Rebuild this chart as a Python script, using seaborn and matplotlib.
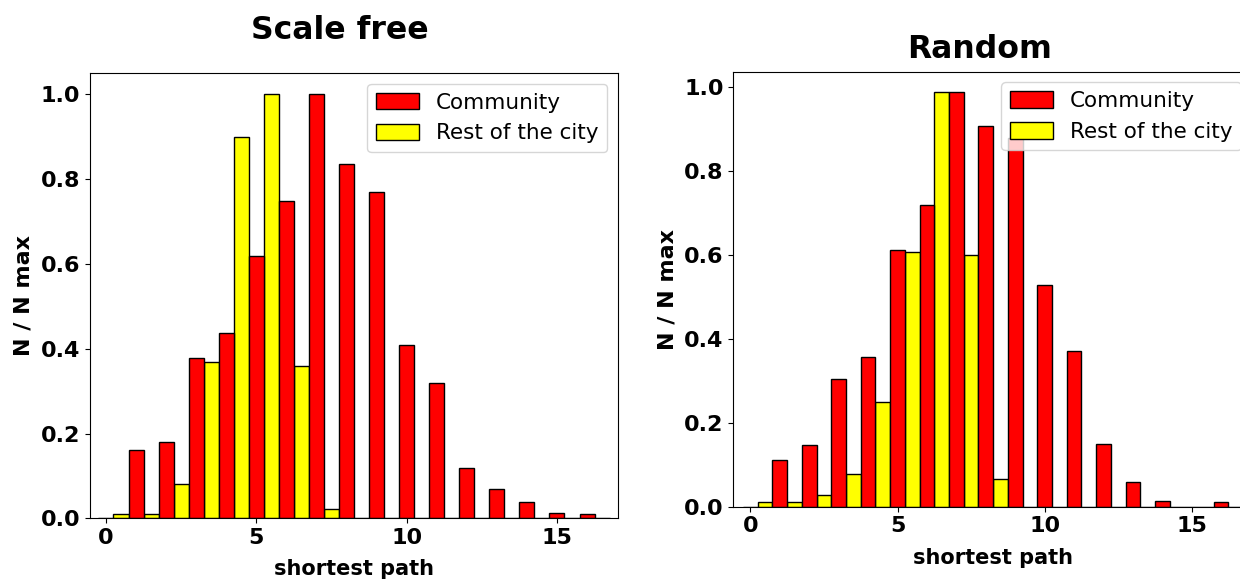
import numpy as np
import pandas as pd
import matplotlib
matplotlib.use("Agg")
import matplotlib.pyplot as plt
from matplotlib.patches import Patch
import seaborn as sns

# shortest path values (bin centres), one per bin
path = list(range(0, 17))

# Scale free network, normalised counts
sf_community = [0.0, 0.161, 0.179, 0.379, 0.438, 0.619, 0.748, 1.0, 0.837,
                0.769, 0.409, 0.319, 0.119, 0.069, 0.039, 0.013, 0.010]
sf_rest = [0.010, 0.010, 0.081, 0.368, 0.899, 1.0, 0.360, 0.023, 0.0,
           0.0, 0.0, 0.0, 0.0, 0.0, 0.0, 0.0, 0.0]

# Random network, normalised counts
rn_community = [0.0, 0.111, 0.147, 0.305, 0.357, 0.613, 0.719, 0.988, 0.907,
                0.88, 0.529, 0.370, 0.149, 0.060, 0.014, 0.0, 0.011]
rn_rest = [0.010, 0.010, 0.029, 0.078, 0.249, 0.608, 0.988, 0.599, 0.065,
           0.0, 0.0, 0.0, 0.0, 0.0, 0.0, 0.0, 0.0]

groups = ["Community", "Rest of the city"]
colors = {"Community": "red", "Rest of the city": "yellow"}
bins = [p - 0.25 for p in path] + [path[-1] + 0.75]


def make_df(comm, rest):
    return pd.DataFrame({
        "path": path + path,
        "value": comm + rest,
        "group": [groups[0]] * len(path) + [groups[1]] * len(path),
    })


fig = plt.figure(figsize=(12.4, 5.79), dpi=100)
ax1 = fig.add_axes([0.0726, 0.1048, 0.4258, 0.7686])
ax2 = fig.add_axes([0.5914, 0.1249, 0.4183, 0.7513])

panels = [
    (ax1, make_df(sf_community, sf_rest), "Scale free", (-0.53, 17.03), 1.05, 25),
    (ax2, make_df(rn_community, rn_rest), "Random", (-0.58, 17.05), 1.037, 9.6),
]

for ax, df, title, xlim, ytop, pad in panels:
    sns.histplot(data=df, x="path", weights="value", hue="group",
                 hue_order=groups, palette=colors, bins=bins,
                 multiple="dodge", shrink=1, alpha=1,
                 edgecolor="black", linewidth=1, legend=False, ax=ax)
    ax.set_xlim(*xlim)
    ax.set_ylim(0, ytop)
    ax.set_xticks([0, 5, 10, 15])
    ax.set_yticks([0.0, 0.2, 0.4, 0.6, 0.8, 1.0])
    ax.set_yticklabels(["0.0", "0.2", "0.4", "0.6", "0.8", "1.0"])
    ax.tick_params(labelsize=16)
    for lab in ax.get_xticklabels() + ax.get_yticklabels():
        lab.set_fontweight("bold")
    ax.set_xlabel("shortest path", fontsize=15, fontweight="bold", labelpad=8)
    ax.set_ylabel("N / N max", fontsize=16, fontweight="bold", labelpad=5)
    ax.set_title(title, fontsize=22.7, fontweight="bold", x=0.474, pad=pad)
    handles = [Patch(facecolor=colors[g], edgecolor="black", label=g) for g in groups]
    ax.legend(handles=handles, loc="upper right", fontsize=15.5, handleheight=0.8)

fig.savefig("out.png", dpi=100)
